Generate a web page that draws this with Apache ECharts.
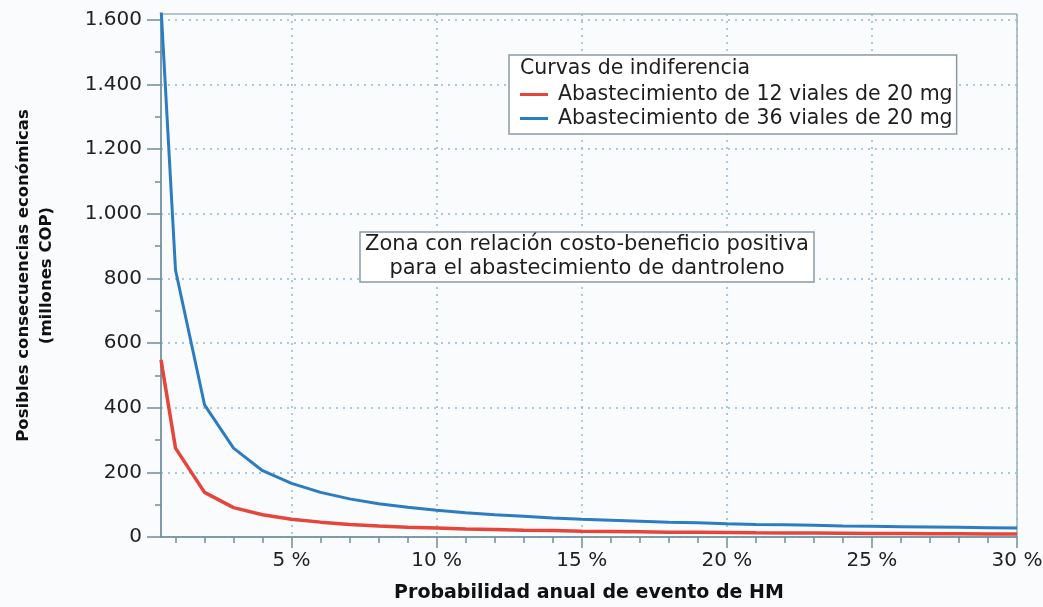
<!DOCTYPE html>
<html>
<head>
<meta charset="utf-8">
<script src="https://cdn.jsdelivr.net/npm/echarts@6/dist/echarts.min.js"></script>
<style>
html, body { margin: 0; padding: 0; background: #fafbfd; }
#chart { width: 1043px; height: 607px; }
</style>
</head>
<body>
<div id="chart"></div>
<script>
// probabilidad anual (%)
let probabilidad = [0.5, 1, 2, 3, 4, 5, 6, 7, 8, 9, 10, 11, 12, 13, 14, 15, 16, 17, 18, 19, 20,
    21, 22, 23, 24, 25, 26, 27, 28, 29, 30]
// millones COP
let viales12 = [548, 275, 138, 91, 69, 55, 46, 39, 34, 30, 28, 25, 23, 21, 20, 18, 17, 16, 15, 14.5, 14,
    13, 12.5, 12, 11.5, 11, 10.5, 10, 10, 9.5, 9]
let viales36 = [1640, 826, 409, 275, 205, 166, 138, 118, 103, 92, 83, 75, 69, 64, 59, 55, 52, 49, 46, 44, 41,
    39, 38, 36, 34, 33, 32, 31, 30, 29, 28]

let xTicks = [5, 10, 15, 20, 25, 30]
let xMinorTicks = [1, 2, 3, 4, 6, 7, 8, 9, 11, 12, 13, 14, 16, 17, 18, 19, 21, 22, 23, 24, 26, 27, 28, 29]
let yTicks = [0, 200, 400, 600, 800, 1000, 1200, 1400, 1600]
let yMinorTicks = [100, 300, 500, 700, 900, 1100, 1300, 1500]

let axisColor = '#6f8e9c'
let gridColor = '#8dbad0'
let font = 'DejaVu Sans'

const pairs = (xs, ys) => xs.map((x, i) => [x, ys[i]])

let chart = echarts.init(document.getElementById('chart'))
let option = {
    backgroundColor: '#fafbfd',
    animation: false,
    textStyle: { fontFamily: font },
    grid: {
        left: 161, right: 26, top: 14, bottom: 70,
        show: true,
        borderColor: axisColor,
        borderWidth: 1,
        backgroundColor: 'transparent',
        outerBoundsMode: 'none'
    },
    title: [
        {
            text: 'Curvas de indiferencia',
            left: 520, top: 58,
            padding: 0,
            textStyle: { fontFamily: font, fontSize: 20.5, fontWeight: 'normal', color: '#1e1e1e' }
        },
        {
            text: 'Zona con relación costo-beneficio positiva\npara el abastecimiento de dantroleno',
            left: 582, top: 232,
            textAlign: 'center',
            padding: [1, 5, 1, 5],
            borderColor: '#8a9aa3',
            borderWidth: 1.5,
            backgroundColor: '#fff',
            textStyle: { fontFamily: font, fontSize: 21, lineHeight: 24, fontWeight: 'normal', color: '#1e1e1e' }
        }
    ],
    legend: {
        orient: 'vertical',
        left: 509, top: 55,
        padding: [29, 4, 5, 11],
        itemGap: 3,
        itemWidth: 28,
        itemHeight: 3,
        icon: 'rect',
        borderColor: '#8a9aa3',
        borderWidth: 1.5,
        backgroundColor: '#fff',
        z: 2,
        textStyle: { fontFamily: font, fontSize: 20.5, color: '#1e1e1e', padding: [0, 0, 0, 5] },
        data: ['Abastecimiento de 12 viales de 20 mg', 'Abastecimiento de 36 viales de 20 mg']
    },
    xAxis: [
        {
            type: 'value',
            min: 0.5, max: 30,
            name: 'Probabilidad anual de evento de HM',
            nameLocation: 'middle',
            nameGap: 47,
            nameTextStyle: { fontFamily: font, fontSize: 19, fontWeight: 'bold', color: '#111' },
            axisLine: { show: true, lineStyle: { color: axisColor, width: 1.5 } },
            axisTick: { show: true, customValues: xTicks, length: 11, lineStyle: { color: axisColor, width: 1.5 } },
            axisLabel: {
                customValues: xTicks,
                margin: 14,
                fontSize: 20,
                color: '#222',
                formatter: (v) => v + ' %'
            },
            splitLine: { show: true, lineStyle: { color: gridColor, type: [2, 5], width: 1.5 } }
        },
        {
            type: 'value',
            min: 0.5, max: 30,
            position: 'bottom',
            axisLine: { show: false },
            axisTick: { show: true, customValues: xMinorTicks, length: 6, lineStyle: { color: axisColor, width: 1.5 } },
            axisLabel: { show: false },
            splitLine: { show: false }
        }
    ],
    yAxis: [
        {
            type: 'value',
            min: 0, max: 1618,
            name: 'Posibles consecuencias económicas\n(millones COP)',
            nameLocation: 'middle',
            nameRotate: 90,
            nameGap: 103,
            nameTextStyle: { fontFamily: font, fontSize: 16.5, lineHeight: 23, fontWeight: 'bold', color: '#111' },
            axisLine: { show: true, lineStyle: { color: axisColor, width: 1.5 } },
            axisTick: { show: true, customValues: yTicks, length: 14, lineStyle: { color: axisColor, width: 1.5 } },
            axisLabel: {
                customValues: yTicks,
                margin: 19,
                fontSize: 20,
                color: '#222',
                formatter: (v) => v >= 1000 ? Math.floor(v / 1000) + '.' + String(v % 1000).padStart(3, '0') : String(v)
            },
            splitLine: { show: true, lineStyle: { color: gridColor, type: [2, 5], width: 1.5 } }
        },
        {
            type: 'value',
            min: 0, max: 1618,
            position: 'left',
            axisLine: { show: false },
            axisTick: { show: true, customValues: yMinorTicks, length: 6, lineStyle: { color: axisColor, width: 1.5 } },
            axisLabel: { show: false },
            splitLine: { show: false }
        }
    ],
    series: [
        {
            name: 'Abastecimiento de 12 viales de 20 mg',
            type: 'line',
            data: pairs(probabilidad, viales12),
            showSymbol: false,
            clip: true,
            color: '#e4463c',
            lineStyle: { color: '#e4463c', width: 3.5 }
        },
        {
            name: 'Abastecimiento de 36 viales de 20 mg',
            type: 'line',
            data: pairs(probabilidad, viales36),
            showSymbol: false,
            clip: true,
            color: '#2b7cc1',
            lineStyle: { color: '#2b7cc1', width: 3 }
        }
    ]
}
chart.setOption(option)
</script>
</body>
</html>
